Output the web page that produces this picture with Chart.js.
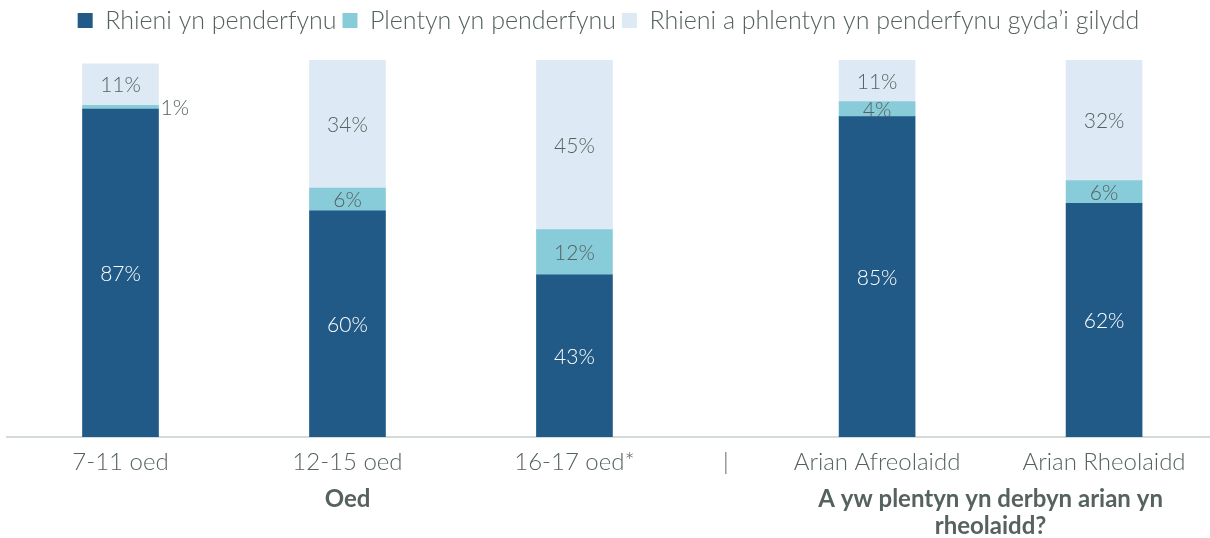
<!DOCTYPE html>
<html>
<head>
<meta charset="utf-8">
<script src="https://cdn.jsdelivr.net/npm/chart.js@4"></script>
<style>
    html, body { margin: 0; padding: 0; background: #ffffff; }
    #wrap { width: 1210px; height: 538px; position: relative; }
</style>
</head>
<body>
<div id="wrap"><canvas id="decisionChart"></canvas></div>
<script>
const categories = ['7-11 oed', '12-15 oed', '16-17 oed*', 'Arian Afreolaidd', 'Arian Rheolaidd'];
const groupTitles = [['Oed'], ['A yw plentyn yn derbyn arian yn', 'rheolaidd?']];
const groupMembers = [[0, 1, 2], [3, 4]];

const seriesNames = ['Rhieni yn penderfynu', 'Plentyn yn penderfynu', 'Rhieni a phlentyn yn penderfynu gyda\u2019i gilydd'];
const parentsDecide = [87, 60, 43, 85, 62];
const childDecides = [1, 6, 12, 4, 6];
const decideTogether = [11, 34, 45, 11, 32];

const colours = ['#215a86', '#88cbd9', '#ddeaf5'];
const labelColours = ['#ffffff', '#55625f', '#55625f'];
const textColour = '#55625f';
const fontFamily = 'Lato, "Open Sans", sans-serif';

// second group sits a third of a slot further right, with a divider between
const slotOf = i => i + (i >= 3 ? 1 / 3 : 0);
const dividerSlot = 2 + 2 / 3;

const toPoints = values => values.map((v, i) => ({ x: slotOf(i), y: v }));

// push the plot area down a bit below the legend
const legendSpacer = {
    id: 'legendSpacer',
    afterInit(chart) {
        const fit = chart.legend.fit;
        chart.legend.fit = function () {
            fit.call(this);
            this.height += 17;
        };
    }
};

const barLabels = {
    id: 'barLabels',
    afterDatasetsDraw(chart) {
        const { ctx } = chart;
        ctx.save();
        ctx.font = '300 21px ' + fontFamily;
        ctx.textBaseline = 'middle';
        chart.data.datasets.forEach((ds, di) => {
            chart.getDatasetMeta(di).data.forEach((bar, i) => {
                const value = ds.data[i].y;
                const midY = (bar.y + bar.base) / 2;
                if (value < 3) {
                    ctx.textAlign = 'left';
                    ctx.fillStyle = textColour;
                    ctx.fillText(value + '%', bar.x + bar.width / 2 + 2, midY + 1);
                } else {
                    ctx.textAlign = 'center';
                    ctx.fillStyle = labelColours[di];
                    ctx.fillText(value + '%', bar.x, midY + 1);
                }
            });
        });
        ctx.restore();
    }
};

const groupLabels = {
    id: 'groupLabels',
    afterDraw(chart) {
        const { ctx } = chart;
        const xScale = chart.scales.x;
        ctx.save();
        ctx.font = 'bold 24px ' + fontFamily;
        ctx.fillStyle = textColour;
        ctx.textAlign = 'center';
        ctx.textBaseline = 'middle';
        groupTitles.forEach((lines, g) => {
            const members = groupMembers[g];
            const left = xScale.getPixelForValue(slotOf(members[0]));
            const right = xScale.getPixelForValue(slotOf(members[members.length - 1]));
            const cx = (left + right) / 2;
            lines.forEach((line, li) => {
                ctx.fillText(line, cx, 499 + li * 27);
            });
        });
        ctx.restore();
    }
};

const tickLabelFor = value => {
    if (Math.abs(value - dividerSlot) < 0.01) return '|';
    const idx = categories.findIndex((_, i) => Math.abs(slotOf(i) - value) < 0.01);
    return idx >= 0 ? categories[idx] : '';
};

new Chart(document.getElementById('decisionChart'), {
    type: 'bar',
    data: {
        datasets: [parentsDecide, childDecides, decideTogether].map((values, i) => ({
            label: seriesNames[i],
            data: toPoints(values),
            backgroundColor: colours[i],
            borderWidth: 0,
            barThickness: 76
        }))
    },
    options: {
        responsive: true,
        maintainAspectRatio: false,
        animation: false,
        layout: {
            padding: { left: 7, right: 0, top: 2, bottom: 0 }
        },
        plugins: {
            legend: {
                position: 'top',
                labels: {
                    color: textColour,
                    font: { family: fontFamily, size: 25, weight: '300' },
                    boxWidth: 15,
                    boxHeight: 15,
                    padding: 6
                }
            },
            tooltip: { enabled: false }
        },
        scales: {
            x: {
                type: 'linear',
                stacked: true,
                offset: false,
                min: -0.5,
                max: 4.8,
                afterBuildTicks: scale => {
                    const ticks = categories.map((_, i) => ({ value: slotOf(i) }));
                    ticks.splice(3, 0, { value: dividerSlot });
                    scale.ticks = ticks;
                },
                afterFit: scale => { scale.height = 101; },
                ticks: {
                    autoSkip: false,
                    maxRotation: 0,
                    padding: 3,
                    color: textColour,
                    font: { family: fontFamily, size: 24, weight: '300' },
                    callback: value => tickLabelFor(value)
                },
                grid: { display: false },
                border: { color: '#d3dcd9', width: 2 }
            },
            y: {
                stacked: true,
                display: false,
                min: 0,
                max: 100
            }
        }
    },
    plugins: [legendSpacer, barLabels, groupLabels]
});
</script>
</body>
</html>
